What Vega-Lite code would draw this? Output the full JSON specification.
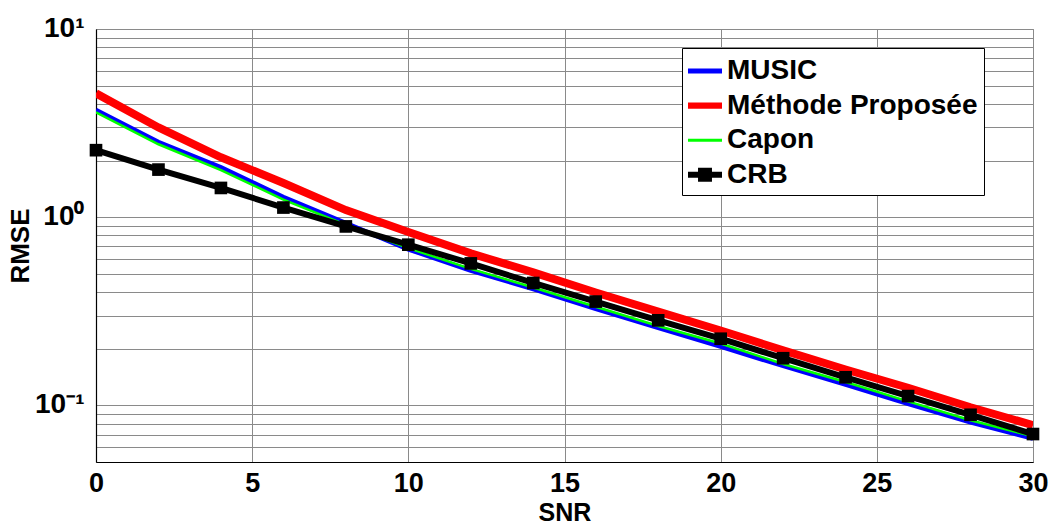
{
  "$schema": "https://vega.github.io/schema/vega-lite/v6.json",
  "width": 937,
  "height": 433,
  "autosize": {"type": "none"},
  "padding": {"left": 96, "top": 29, "right": 19, "bottom": 62},
  "background": "white",
  "config": {
    "font": "Liberation Sans",
    "view": {"stroke": "#888888", "strokeWidth": 1},
    "axis": {
      "labelFont": "Liberation Sans",
      "labelFontWeight": "bold",
      "labelColor": "black",
      "titleFont": "Liberation Sans",
      "titleFontWeight": "bold",
      "titleColor": "black",
      "domainColor": "black",
      "domainWidth": 1.2,
      "gridColor": "#8a8a8a",
      "gridOpacity": 1,
      "gridWidth": 1,
      "ticks": false,
      "labelFlush": false,
      "labelOverlap": false
    }
  },
  "data": {
    "values": [
      {"snr": 0, "series": "MUSIC", "rmse": 3.71},
      {"snr": 2, "series": "MUSIC", "rmse": 2.51},
      {"snr": 4, "series": "MUSIC", "rmse": 1.84},
      {"snr": 6, "series": "MUSIC", "rmse": 1.28},
      {"snr": 8, "series": "MUSIC", "rmse": 0.93},
      {"snr": 10, "series": "MUSIC", "rmse": 0.675},
      {"snr": 12, "series": "MUSIC", "rmse": 0.52},
      {"snr": 14, "series": "MUSIC", "rmse": 0.415},
      {"snr": 16, "series": "MUSIC", "rmse": 0.326},
      {"snr": 18, "series": "MUSIC", "rmse": 0.258},
      {"snr": 20, "series": "MUSIC", "rmse": 0.205},
      {"snr": 22, "series": "MUSIC", "rmse": 0.162},
      {"snr": 24, "series": "MUSIC", "rmse": 0.129},
      {"snr": 26, "series": "MUSIC", "rmse": 0.102},
      {"snr": 28, "series": "MUSIC", "rmse": 0.0812},
      {"snr": 30, "series": "MUSIC", "rmse": 0.0665},
      {"snr": 0, "series": "Méthode Proposée", "rmse": 4.55},
      {"snr": 2, "series": "Méthode Proposée", "rmse": 3.0},
      {"snr": 4, "series": "Méthode Proposée", "rmse": 2.08},
      {"snr": 6, "series": "Méthode Proposée", "rmse": 1.52},
      {"snr": 8, "series": "Méthode Proposée", "rmse": 1.09},
      {"snr": 10, "series": "Méthode Proposée", "rmse": 0.835},
      {"snr": 12, "series": "Méthode Proposée", "rmse": 0.642},
      {"snr": 14, "series": "Méthode Proposée", "rmse": 0.509},
      {"snr": 16, "series": "Méthode Proposée", "rmse": 0.398},
      {"snr": 18, "series": "Méthode Proposée", "rmse": 0.315},
      {"snr": 20, "series": "Méthode Proposée", "rmse": 0.25},
      {"snr": 22, "series": "Méthode Proposée", "rmse": 0.196},
      {"snr": 24, "series": "Méthode Proposée", "rmse": 0.155},
      {"snr": 26, "series": "Méthode Proposée", "rmse": 0.124},
      {"snr": 28, "series": "Méthode Proposée", "rmse": 0.0977},
      {"snr": 30, "series": "Méthode Proposée", "rmse": 0.0785},
      {"snr": 0, "series": "Capon", "rmse": 3.61},
      {"snr": 2, "series": "Capon", "rmse": 2.44},
      {"snr": 4, "series": "Capon", "rmse": 1.78},
      {"snr": 6, "series": "Capon", "rmse": 1.24},
      {"snr": 8, "series": "Capon", "rmse": 0.91},
      {"snr": 10, "series": "Capon", "rmse": 0.685},
      {"snr": 12, "series": "Capon", "rmse": 0.531},
      {"snr": 14, "series": "Capon", "rmse": 0.423},
      {"snr": 16, "series": "Capon", "rmse": 0.334},
      {"snr": 18, "series": "Capon", "rmse": 0.264},
      {"snr": 20, "series": "Capon", "rmse": 0.213},
      {"snr": 22, "series": "Capon", "rmse": 0.166},
      {"snr": 24, "series": "Capon", "rmse": 0.133},
      {"snr": 26, "series": "Capon", "rmse": 0.105},
      {"snr": 28, "series": "Capon", "rmse": 0.0833},
      {"snr": 30, "series": "Capon", "rmse": 0.0684},
      {"snr": 0, "series": "CRB", "rmse": 2.27},
      {"snr": 2, "series": "CRB", "rmse": 1.79},
      {"snr": 4, "series": "CRB", "rmse": 1.43},
      {"snr": 6, "series": "CRB", "rmse": 1.125},
      {"snr": 8, "series": "CRB", "rmse": 0.893},
      {"snr": 10, "series": "CRB", "rmse": 0.714},
      {"snr": 12, "series": "CRB", "rmse": 0.568},
      {"snr": 14, "series": "CRB", "rmse": 0.447},
      {"snr": 16, "series": "CRB", "rmse": 0.356},
      {"snr": 18, "series": "CRB", "rmse": 0.283},
      {"snr": 20, "series": "CRB", "rmse": 0.226},
      {"snr": 22, "series": "CRB", "rmse": 0.178},
      {"snr": 24, "series": "CRB", "rmse": 0.141},
      {"snr": 26, "series": "CRB", "rmse": 0.112},
      {"snr": 28, "series": "CRB", "rmse": 0.0891},
      {"snr": 30, "series": "CRB", "rmse": 0.0704}
    ]
  },
  "encoding": {
    "x": {
      "field": "snr",
      "type": "quantitative",
      "scale": {"domain": [0, 30], "nice": false, "zero": false},
      "axis": {
        "values": [0, 5, 10, 15, 20, 25, 30],
        "title": "SNR",
        "labelFontSize": 27,
        "labelPadding": 8,
        "titleFontSize": 25,
        "titlePadding": 4,
        "grid": true
      }
    },
    "y": {
      "field": "rmse",
      "type": "quantitative",
      "scale": {"type": "log", "domain": [0.05, 10], "nice": false},
      "axis": {
        "values": [0.05, 0.06, 0.07, 0.08, 0.09, 0.1, 0.2, 0.3, 0.4, 0.5, 0.6, 0.7, 0.8, 0.9, 1, 2, 3, 4, 5, 6, 7, 8, 9, 10],
        "labelExpr": "abs(datum.value-10)<1e-6 ? '10¹' : abs(datum.value-1)<1e-6 ? '10⁰' : abs(datum.value-0.1)<1e-6 ? '10⁻¹' : ''",
        "title": "RMSE",
        "labelFontSize": 28,
        "labelPadding": 12,
        "labelOffset": -1,
        "titleFontSize": 26,
        "titlePadding": 1,
        "grid": true
      }
    }
  },
  "layer": [
    {
      "transform": [{"filter": "datum.series == 'MUSIC'"}],
      "mark": {"type": "line", "color": "#0000ff", "strokeWidth": 4.5, "clip": true}
    },
    {
      "transform": [{"filter": "datum.series == 'Méthode Proposée'"}],
      "mark": {"type": "line", "color": "#ff0000", "strokeWidth": 8, "clip": true}
    },
    {
      "transform": [{"filter": "datum.series == 'Capon'"}],
      "mark": {"type": "line", "color": "#00ff00", "strokeWidth": 2.5, "clip": true}
    },
    {
      "transform": [{"filter": "datum.series == 'CRB'"}],
      "mark": {"type": "line", "color": "#000000", "strokeWidth": 6, "clip": false}
    },
    {
      "transform": [{"filter": "datum.series == 'CRB'"}],
      "mark": {"type": "square", "color": "#000000", "filled": true, "opacity": 1, "size": 160}
    },
    {
      "transform": [{"filter": "false"}],
      "mark": {"type": "point", "filled": true, "opacity": 1},
      "encoding": {
        "color": {
          "field": "series",
          "type": "nominal",
          "scale": {
            "domain": ["MUSIC", "Méthode Proposée", "Capon", "CRB"],
            "range": ["#0000ff", "#ff0000", "#00ff00", "#000000"]
          },
          "legend": {
            "title": null,
            "orient": "none",
            "legendX": 586,
            "legendY": 19,
            "strokeColor": "black",
            "fillColor": "white",
            "padding": 6,
            "labelFont": "Liberation Sans",
            "labelFontSize": 28,
            "labelFontWeight": "bold",
            "labelColor": "black",
            "labelOffset": 5,
            "labelLimit": 0,
            "symbolSize": 1156,
            "symbolStrokeWidth": 0,
            "rowPadding": 3.6
          }
        },
        "shape": {
          "field": "series",
          "type": "nominal",
          "scale": {
            "domain": ["MUSIC", "Méthode Proposée", "Capon", "CRB"],
            "range": [
              "M-1,-0.15H1V0.15H-1Z",
              "M-1,-0.18H1V0.18H-1Z",
              "M-1,-0.09H1V0.09H-1Z",
              "M-1,-0.18H-0.41V-0.41H0.41V-0.18H1V0.18H0.41V0.41H-0.41V0.18H-1Z"
            ]
          }
        }
      }
    }
  ]
}
